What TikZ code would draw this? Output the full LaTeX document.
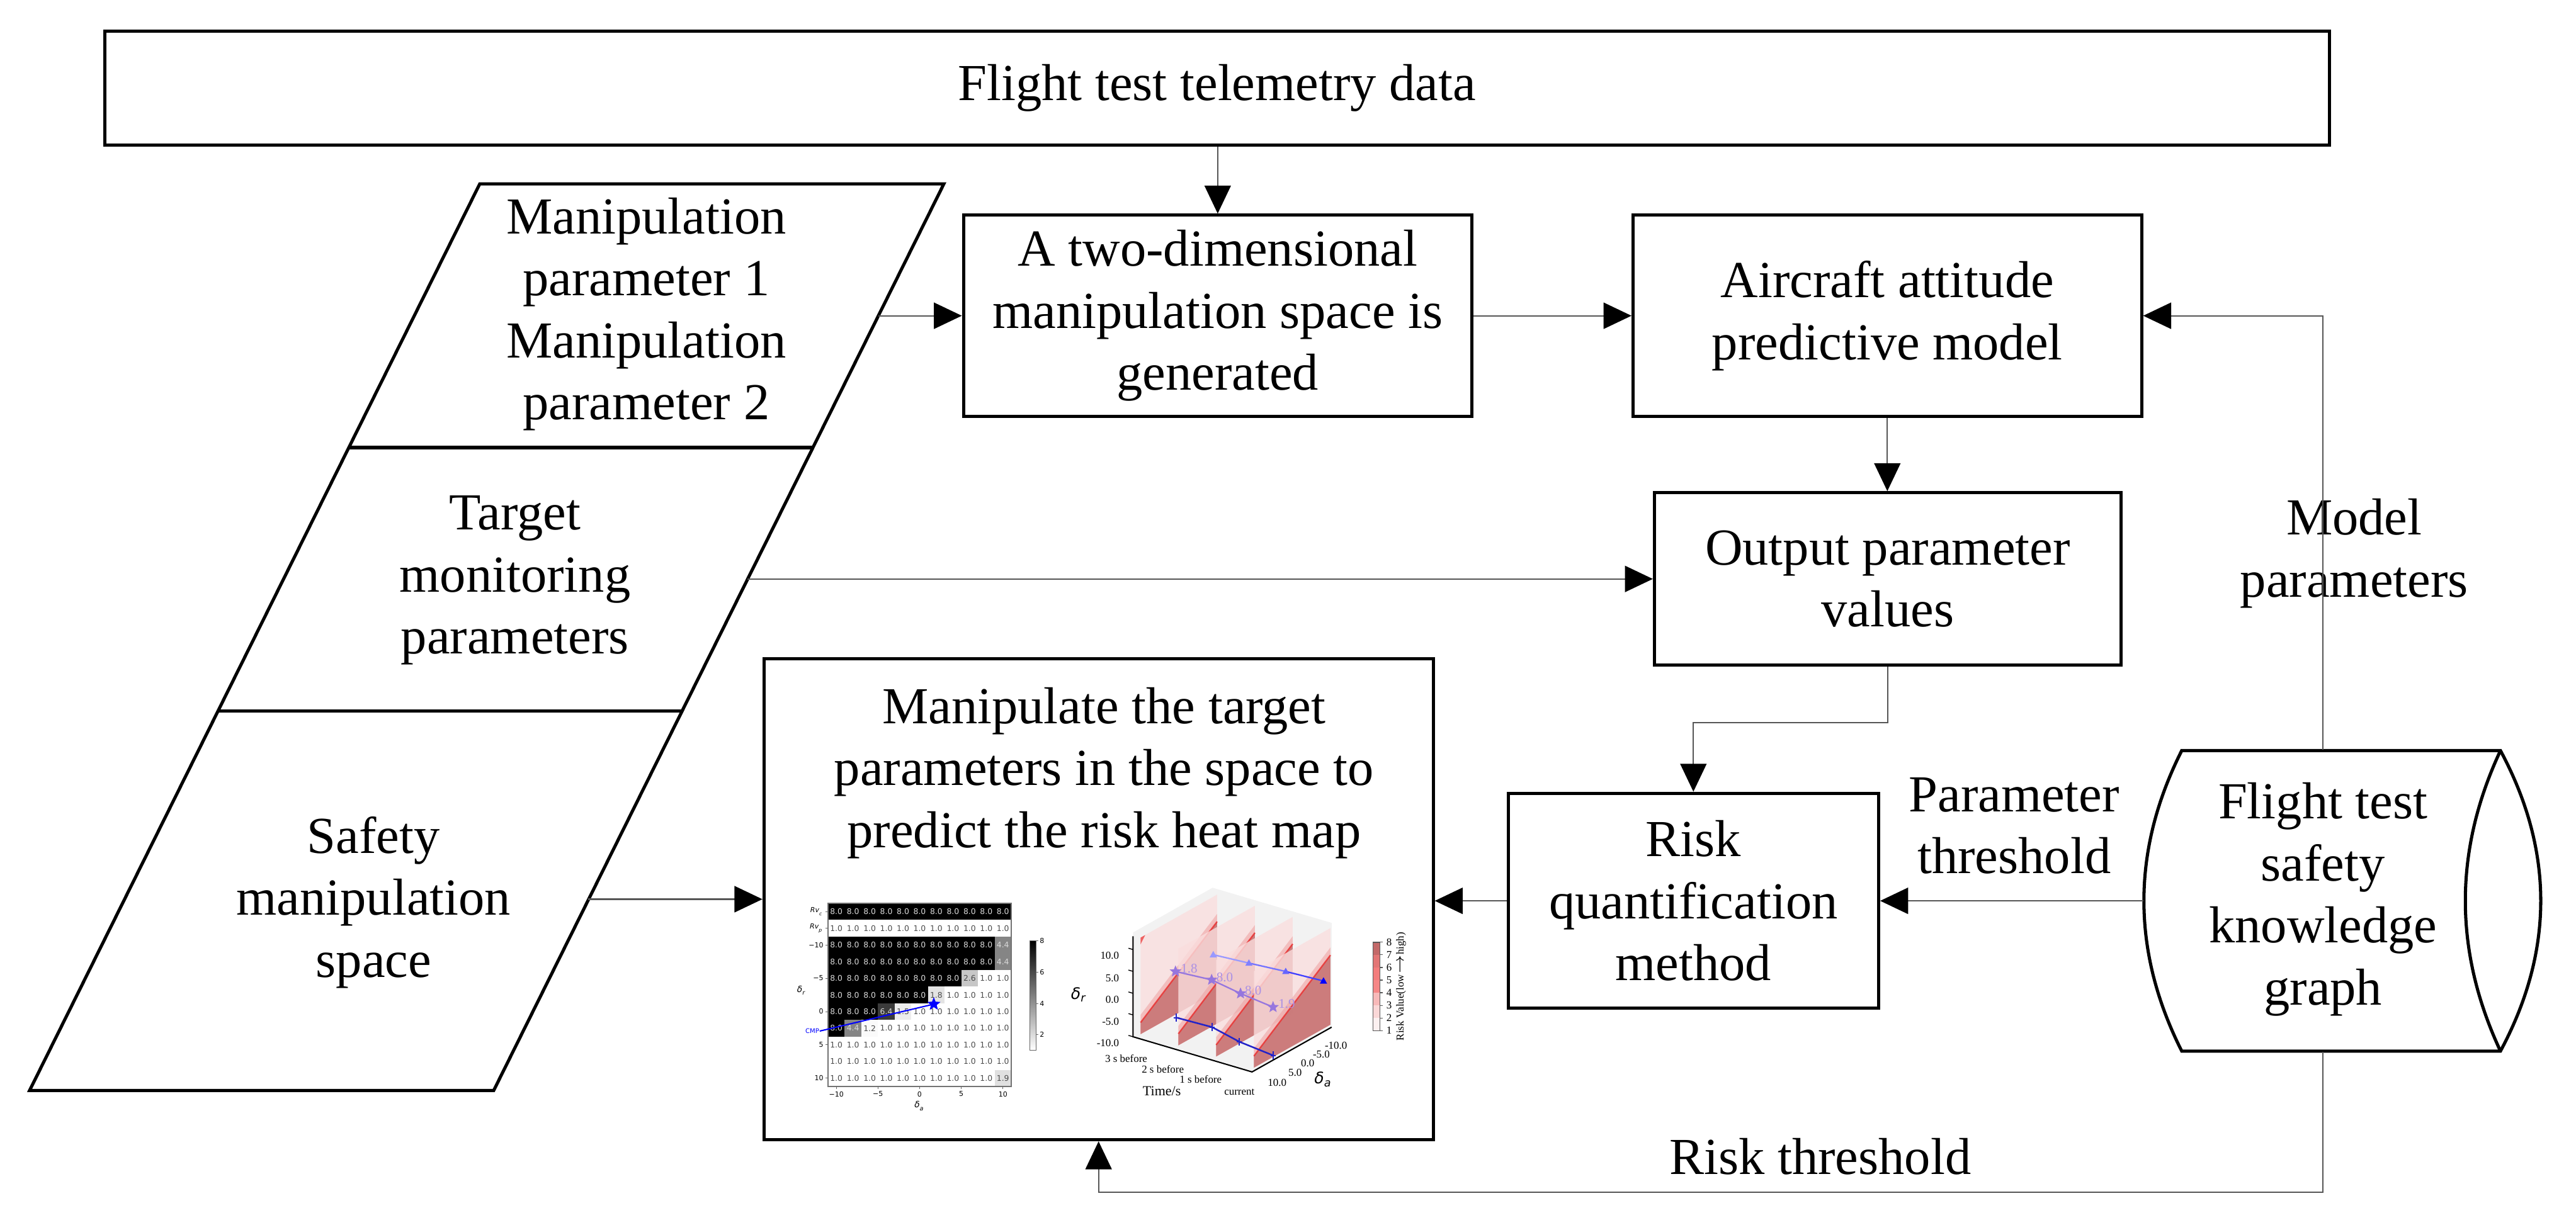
\documentclass[tikz,border=0pt]{standalone}
\usepackage{fontspec}
\setmainfont{Liberation Serif}
\newfontfamily\djv{DejaVu Sans}
\usetikzlibrary{arrows.meta,shapes.geometric,calc}

\definecolor{conncol}{RGB}{85,85,85}
\definecolor{pinkl}{RGB}{250,222,222}
\definecolor{pinkm}{RGB}{238,165,165}
\definecolor{pinkd}{RGB}{200,118,118}
\definecolor{redln}{RGB}{235,45,45}
\definecolor{panegray}{RGB}{242,242,242}
\definecolor{mpurple}{RGB}{150,118,222}
\definecolor{dblue}{RGB}{35,35,200}
\definecolor{cbA}{RGB}{252,240,240}
\definecolor{cbB}{RGB}{250,215,215}
\definecolor{cbC}{RGB}{247,185,185}
\definecolor{cbD}{RGB}{245,135,135}
\definecolor{cbE}{RGB}{243,125,125}
\definecolor{cbF}{RGB}{226,118,118}
\definecolor{cbG}{RGB}{195,105,105}

\newcommand\mainsz{\fontsize{18}{21.5}\selectfont}
\newcommand\hmf{\djv\fontsize{2.7}{3}\selectfont}
\newcommand\hmtick{\djv\fontsize{2.4}{3}\selectfont}
\newcommand\tdf{\fontsize{3.7}{4}\selectfont}
\newcommand\cbf{\fontsize{3.7}{4}\selectfont}

\begin{document}
\begin{tikzpicture}[x=0.02cm, y=-0.02cm,
  box/.style={draw, line width=1.1pt, align=center, inner sep=0pt, font=\mainsz},
  txt/.style={align=center, inner sep=0pt, font=\mainsz},
  conn/.style={draw=conncol, line width=0.45pt},
  arr/.style={conn, -{Triangle[length=0.34cm,width=0.32cm,color=black]}},
  outline/.style={line width=1.1pt, line join=miter},
  small/.style={inner sep=0pt},
  ]
\useasboundingbox (0,0) rectangle (1568,748.55);

% ---------- main boxes ----------
\node[box, minimum width=27.09cm, minimum height=1.394cm] (top) at (740.75,53.65) {Flight test telemetry data};
\node[box, minimum width=6.192cm, minimum height=2.45cm] (A) at (741.2,192.25) {A two-dimensional\\manipulation space is\\generated};
\node[box, minimum width=6.192cm, minimum height=2.45cm] (B) at (1148.8,192.25) {Aircraft attitude\\predictive model};
\node[box, minimum width=5.68cm, minimum height=2.1cm] (C) at (1149,352.5) {Output parameter\\values};
\node[box, minimum width=4.51cm, minimum height=2.62cm] (D) at (1030.75,548.5) {Risk\\quantification\\method};
\node[box, minimum width=8.148cm, minimum height=5.86cm] (E) at (668.7,547.5) {};
\node[txt] (Et) at (672,470.6) {Manipulate the target\\parameters in the space to\\predict the risk heat map};

% ---------- left parallelogram ----------
\draw[outline] (292,112) -- (574.5,112) -- (300.5,664) -- (18,664) -- cycle;
\draw[outline] (212.3,272.5) -- (494.8,272.5);
\draw[outline] (132.8,432.8) -- (415.3,432.8);
\node[txt] (p1t) at (393.4,191.3) {Manipulation\\parameter 1\\Manipulation\\parameter 2};
\node[txt] (p2t) at (313.5,353.3) {Target\\monitoring\\parameters};
\node[txt] (p3t) at (227.4,549.5) {Safety\\manipulation\\space};
\coordinate (p1r) at (534.5,192.25);
\coordinate (p2r) at (455.1,352.5);
\coordinate (p3r) at (358.1,547.5);

% ---------- knowledge graph cylinder ----------
\node[minimum width=4.83cm, minimum height=3.66cm, inner sep=0pt] (kg) at (1425.75,548.5) {};
\draw[outline] (1328,457) -- (1522,457) .. controls (1554.7,518) and (1554.7,579) .. (1522,640) -- (1328,640) .. controls (1297.3,579) and (1297.3,518) .. (1328,457) -- cycle;
\draw[outline] (1522,457) .. controls (1493.5,518) and (1493.5,579) .. (1522,640);
\node[txt] (kgt) at (1414,547.6) {Flight test\\safety\\knowledge\\graph};

% ---------- labels ----------
\node[txt] (lmp) at (1433,337) {Model\\parameters};
\node[txt] (lpt) at (1226,502.8) {Parameter\\threshold};
\node[txt] (lrt) at (1108,704) {Risk threshold};

% ---------- connectors ----------
\draw[arr] (A.north |- top.south) -- (A.north);
\draw[arr] (p1r) -- (A.west);
\draw[arr] (A.east) -- (B.west);
\draw[arr] (B.south) -- (B.south |- C.north);
\draw[arr] (p2r) -- (C.west);
\draw[arr] (C.south) -- ++(0,34) -| (D.north);
\draw[arr] (kg.west) -- (kg.west -| D.east);
\draw[arr] (D.west) -- (D.west -| E.east);
\draw[arr] (p3r) -- (E.west);
\draw[arr] (kgt |- kg.north) |- (B.east);
\draw[arr] (kgt |- kg.south) -- ++(0,85.6) -| (E.south);

% ---------- heat map (left) ----------
\foreach \row [count=\r from 0] in {
 {8.0,8.0,8.0,8.0,8.0,8.0,8.0,8.0,8.0,8.0,8.0},
 {1.0,1.0,1.0,1.0,1.0,1.0,1.0,1.0,1.0,1.0,1.0},
 {8.0,8.0,8.0,8.0,8.0,8.0,8.0,8.0,8.0,8.0,4.4},
 {8.0,8.0,8.0,8.0,8.0,8.0,8.0,8.0,8.0,8.0,4.4},
 {8.0,8.0,8.0,8.0,8.0,8.0,8.0,8.0,2.6,1.0,1.0},
 {8.0,8.0,8.0,8.0,8.0,8.0,1.8,1.0,1.0,1.0,1.0},
 {8.0,8.0,8.0,6.4,1.5,1.0,1.0,1.0,1.0,1.0,1.0},
 {8.0,4.4,1.2,1.0,1.0,1.0,1.0,1.0,1.0,1.0,1.0},
 {1.0,1.0,1.0,1.0,1.0,1.0,1.0,1.0,1.0,1.0,1.0},
 {1.0,1.0,1.0,1.0,1.0,1.0,1.0,1.0,1.0,1.0,1.0},
 {1.0,1.0,1.0,1.0,1.0,1.0,1.0,1.0,1.0,1.0,1.9}} {
  \foreach \v [count=\c from 0] in \row {
    \pgfmathtruncatemacro\pc{(\v-1)/7*100}
    \pgfmathtruncatemacro\tc{\v>4 ? 15 : 70}
    \pgfmathsetmacro\xx{504+\c*10.14}
    \pgfmathsetmacro\yy{550+\r*10.14}
    \fill[black!\pc] (\xx,\yy) rectangle ++(10.14,10.14);
    \node[small, text=black!\tc, font=\hmf] (hm-\r-\c) at (\xx+5.07,\yy+5.07) {\v};
  }
}
\draw[black!55, line width=0.25pt] (504,550) rectangle (615.54,661.54);
\foreach \yy/\lab [count=\i] in {555.07/{\itshape Rv\textsubscript{c}},565.21/{\itshape Rv\textsubscript{p}},575.35/−10,595.63/−5,615.91/0,636.19/5,656.47/10} {
  \draw[black!60, line width=0.2pt] (502.3,\yy) -- (504,\yy);
  \node[small, anchor=east, font=\hmtick] (hy\i) at (501.5,\yy) {\lab};
}
\foreach \xx/\lab [count=\i] in {509.07/−10,534.42/−5,559.77/0,585.12/5,610.47/10} {
  \draw[black!60, line width=0.2pt] (\xx,661.54) -- (\xx,663.2);
  \node[small, anchor=north, font=\hmtick] (hx\i) at (\xx,664.2) {\lab};
}
\node[small, font=\djv\fontsize{3}{3}\selectfont] (hdr) at (488,603) {\itshape δ\textsubscript{r}};
\node[small, font=\djv\fontsize{3}{3}\selectfont] (hda) at (559.8,673.5) {\itshape δ\textsubscript{a}};
\node[small, text=blue, font=\djv\fontsize{2.2}{3}\selectfont] (cmp) at (494.4,627.8) {CMP};
\node[star, star points=5, star point ratio=2.3, fill=blue, inner sep=0pt, minimum size=0.17cm] (hstar) at (568.4,611.4) {};
\draw[blue, line width=0.45pt] (cmp.east) -- (hstar.center);
% colour bar
\shade[top color=black, bottom color=white] (627,572.7) rectangle (630.5,639.3);
\draw[black!60, line width=0.2pt] (627,572.7) rectangle (630.5,639.3);
\foreach \yy/\lab in {572.7/8,591.8/6,611/4,629.9/2} {
  \draw[black!60, line width=0.2pt] (630.5,\yy) -- (632,\yy);
  \node[small, anchor=west, font=\hmtick] (hc\lab) at (632.6,\yy) {\lab};
}

% ---------- 3D risk plot (right) ----------
\begin{scope}[shift={(13.888cm,-12.596cm)}, x={(0.46cm,-0.136cm)}, y={(0.932cm,0.524cm)}, z={(0cm,1.176cm)}]
  \fill[panegray] (-0.2,0,-0.05) -- (2.95,0,-0.05) -- (2.95,1.04,-0.05) -- (-0.2,1.04,-0.05) -- cycle;
  \fill[panegray] (-0.2,0,-0.05) -- (-0.2,1.04,-0.05) -- (-0.2,1.04,1.03) -- (-0.2,0,1.03) -- cycle;
  \fill[panegray] (-0.2,1.04,-0.05) -- (2.95,1.04,-0.05) -- (2.95,1.04,1.03) -- (-0.2,1.04,1.03) -- cycle;
  \foreach \t in {0,1,2,3} {
    \fill[pinkl, fill opacity=0.8] (\t,0,0) -- (\t,1,0) -- (\t,1,1) -- (\t,0,1) -- cycle;
    \fill[pinkm, fill opacity=0.6] (\t,0,0) -- (\t,1,0) -- (\t,1,0.8) -- (\t,0,0.2) -- cycle;
    \fill[pinkd, fill opacity=0.9] (\t,0,0) -- (\t,1,0) -- (\t,1,0.72) -- (\t,0,0.12) -- cycle;
    \draw[redln, line width=0.5pt, opacity=0.8] (\t,0,0.12) -- (\t,1,0.72);
  }
  \fill[redln, opacity=0.7] (0,0,1) -- (0,0.06,1) -- (0,0,0.93) -- cycle;
  \draw[black, line width=0.45pt] (-0.2,0,0.99) -- (-0.2,0,-0.05) -- (2.95,0,-0.05) -- (2.95,1.04,-0.05);
  \foreach \zz in {-0.05,0.176,0.40,0.627,0.853}
    \draw[black, line width=0.3pt] (-0.2,0,\zz) -- (-0.32,0,\zz);
\end{scope}
% vertical tick labels
\foreach \yy/\lab [count=\i] in {581.9/10.0,595.6/5.0,608.8/0.0,622.2/-5.0,635/-10.0}
  \node[small, anchor=east, font=\tdf] (vz\i) at (681.5,\yy) {\lab};
\node[small, font=\djv\fontsize{5.5}{6}\selectfont] (zdr) at (656.7,605.6) {\itshape δ\textsubscript{r}};
% time labels
\node[small, font=\tdf] (t3) at (685.5,644.5) {3 s before};
\node[small, font=\tdf] (t2) at (707.8,650.9) {2 s before};
\node[small, font=\tdf] (t1) at (730.8,657.3) {1 s before};
\node[small, font=\tdf] (t0) at (754.4,665) {current};
\node[small, font=\fontsize{4.8}{5}\selectfont] (tts) at (707.2,664.3) {Time/s};
% delta_a labels
\foreach \xx/\yy/\lab [count=\i] in {813.2/636.5/-10.0,804.3/642/-5.0,796/647.5/0.0,788.3/653.1/5.0,777.4/659.2/10.0}
  \node[small, font=\tdf] (da\i) at (\xx,\yy) {\lab};
\node[small, font=\djv\fontsize{5.5}{6}\selectfont] (zda) at (805.5,657.3) {\itshape δ\textsubscript{a}};
% blue triangle line
\draw[blue!40, line width=0.5pt] (738.5,581.3) -- (760.2,586.4);
\draw[blue!55, line width=0.5pt] (760.2,586.4) -- (782.6,591.5);
\draw[blue!75, line width=0.5pt] (782.6,591.5) -- (805.6,597.3);
\foreach \xx/\yy/\cc in {738.5/581.3/blue!40,760.2/586.4/blue!50,782.6/591.5/blue!60,805.6/597.3/blue}
  \fill[\cc] (\xx,\yy-2.3) -- (\xx-2.2,\yy+1.6) -- (\xx+2.2,\yy+1.6) -- cycle;
% star line
\draw[mpurple, line width=0.5pt] (715.5,591.5) -- (737.5,596.6) -- (755.1,604.9) -- (774.9,613.2);
\foreach \xx/\yy [count=\i] in {715.5/591.5,737.5/596.6,755.1/604.9,774.9/613.2}
  \node[star, star points=5, star point ratio=2.3, fill=mpurple, inner sep=0pt, minimum size=0.15cm] (s\i) at (\xx,\yy) {};
\foreach \xx/\yy/\lab [count=\i] in {723.8/589.6/1.8,745.5/595.1/8.0,762.8/603.3/8.0,783.2/611.1/1.9}
  \node[small, text=mpurple!80, font=\fontsize{4.6}{5}\selectfont] (sv\i) at (\xx,\yy) {\lab};
% plus line
\draw[dblue, line width=0.55pt] (716.1,619.6) -- (737.8,625.4) -- (754.4,634.3) -- (774.9,642.6);
\foreach \xx/\yy in {716.1/619.6,737.8/625.4,754.4/634.3,774.9/642.6}
  \draw[dblue, line width=0.4pt] (\xx-1.6,\yy) -- (\xx+1.6,\yy) (\xx,\yy-2.4) -- (\xx,\yy+2.4);
% risk colour bar
\foreach \i/\cc in {0/cbA,1/cbB,2/cbC,3/cbD,4/cbE,5/cbF,6/cbG} {
  \pgfmathsetmacro\ya{627.5-\i*7.686}
  \pgfmathsetmacro\yb{627.5-(\i+1)*7.686}
  \fill[\cc] (835.8,\ya) rectangle (840,\yb);
}
\draw[black!65, line width=0.3pt] (835.8,573.7) rectangle (840,627.5);
\foreach \v in {1,...,8} {
  \pgfmathsetmacro\yy{627.5-(\v-1)*7.686}
  \draw[black!65, line width=0.25pt] (840,\yy) -- (841.6,\yy);
  \node[small, anchor=west, font=\cbf] (cbt\v) at (843.6,\yy) {\v};
}
\node[small, rotate=90, font=\cbf] (cbl) at (852.8,600.6) {Risk Value(low$\rightarrow$high)};
\end{tikzpicture}
\end{document}
